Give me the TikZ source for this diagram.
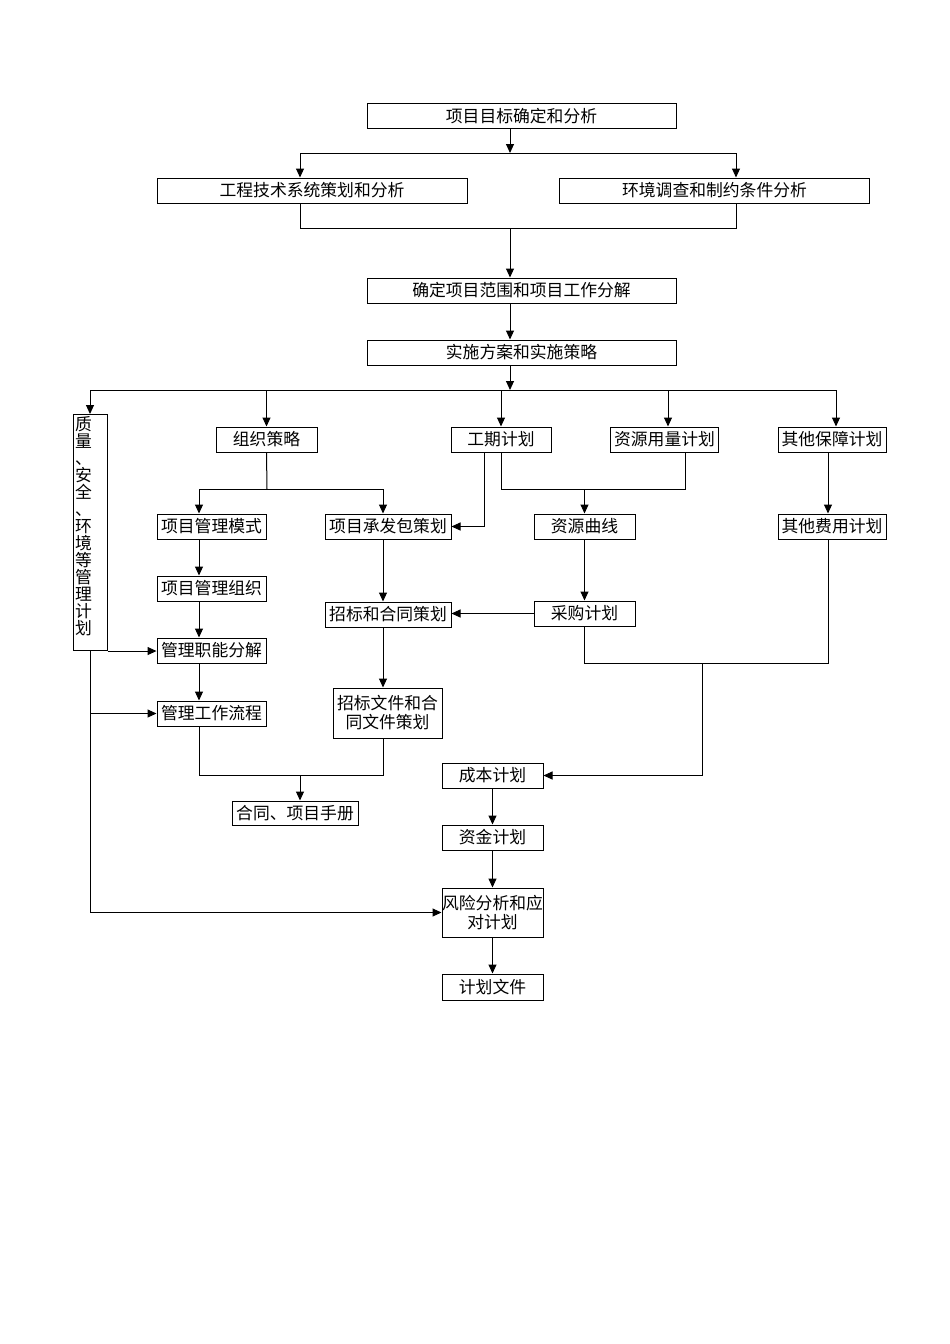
\documentclass[tikz,border=0pt]{standalone}
\usepackage{fontspec}
\newfontfamily\cjk{Noto Sans CJK SC}
\usetikzlibrary{arrows.meta}
\tikzset{
  box/.style={draw,line width=1pt,inner sep=0pt,minimum height=25pt,align=center,
    font=\cjk\fontsize{16.8}{19}\selectfont},
  tallbox/.style={box,align=left,text width=30pt,inner xsep=2pt,inner ysep=2pt,
    text depth=218pt,font=\cjk\fontsize{16.8}{17}\selectfont},
  link/.style={line width=1pt},
  arr/.style={link,-{Triangle[length=9pt,width=8pt]}}
}
\begin{document}
\begin{tikzpicture}[x=1pt,y=-1pt]
    \useasboundingbox (0,0) rectangle (950,1344);
    % upper part
    \node[box,minimum width=309pt] (goal) at (521.5,116) {项目目标确定和分析};
    \node[box,minimum width=310pt] (tech) at (312,190.5) {工程技术系统策划和分析};
    \node[box,minimum width=310pt] (env) at (714.5,190.5) {环境调查和制约条件分析};
    \node[box,minimum width=309pt] (scope) at (521.5,290.5) {确定项目范围和项目工作分解};
    \node[box,minimum width=309pt] (impl) at (521.5,352.5) {实施方案和实施策略};
    % planning rows
    \node[tallbox,anchor=north] (qual) at (90,414) {质\\量\\、\\安\\全\\、\\环\\境\\等\\管\\理\\计\\划};
    \node[box,minimum width=101pt] (org) at (266.5,439.5) {组织策略};
    \node[box,minimum width=100pt] (sched) at (501,439.5) {工期计划};
    \node[box,minimum width=108pt] (res) at (664.5,439.5) {资源用量计划};
    \node[box,minimum width=108pt] (other) at (832,439.5) {其他保障计划};
    \node[box,minimum width=109pt] (mode) at (211.5,526.5) {项目管理模式};
    \node[box,minimum width=126pt] (contract) at (388,526.5) {项目承发包策划};
    \node[box,minimum width=101pt] (curve) at (584.5,526.5) {资源曲线};
    \node[box,minimum width=108pt] (otherc) at (832,526.5) {其他费用计划};
    \node[box,minimum width=109pt] (mgorg) at (211.5,588.5) {项目管理组织};
    \node[box,minimum width=126pt] (bid) at (388,614.5) {招标和合同策划};
    \node[box,minimum width=101pt] (purch) at (584.5,613.5) {采购计划};
    \node[box,minimum width=109pt] (func) at (211.5,650.5) {管理职能分解};
    \node[box,minimum width=109pt] (flow) at (211.5,713.5) {管理工作流程};
    \node[box,minimum width=109pt,minimum height=50pt] (biddoc) at (387.5,713) {招标文件和合\\同文件策划};
    \node[box,minimum width=126pt,minimum height=24pt] (manual) at (295,813) {合同、项目手册};
    \node[box,minimum width=101pt] (cost) at (492.5,775.5) {成本计划};
    \node[box,minimum width=101pt] (fund) at (492.5,837.5) {资金计划};
    \node[box,minimum width=101pt,minimum height=49pt] (risk) at (492.5,912.5) {风险分析和应\\对计划};
    \node[box,minimum width=101pt,minimum height=26pt] (doc) at (492.5,987) {计划文件};
    % lanes and branch points
    \coordinate (lA) at (199,0); \coordinate (lB) at (383,0); \coordinate (lC) at (484,0);
    \coordinate (lF) at (685,0); \coordinate (lH) at (828,0);
    \coordinate (xa) at (300,0); \coordinate (xb) at (736,0);
    \coordinate (c1) at (510,153); \coordinate (c2) at (510,228); \coordinate (sp) at (510,390);
    \coordinate (os) at (267,489); \coordinate (ss) at (501,489);
    \coordinate (ps) at (702,663); \coordinate (ms) at (300,775);
    % top connectors
    \draw[arr] (goal.south -| c1) -- (c1);
    \draw[arr] (c1) -| (tech.north -| xa);
    \draw[arr] (c1) -| (env.north -| xb);
    \draw[link] (tech.south -| xa) -- (xa |- c2) -- (xb |- c2) -- (env.south -| xb);
    \draw[arr] (c2) -- (scope.north -| c2);
    \draw[arr] (scope.south -| c2) -- (impl.north -| c2);
    \draw[arr] (impl.south -| sp) -- (sp);
    \draw[arr] (sp) -| (qual.north);
    \draw[arr] (sp) -| (org.north);
    \draw[arr] (sp) -| (sched.north);
    \draw[arr] (sp) -| ([xshift=3.5pt]res.north);
    \draw[arr] (sp) -| ([xshift=4pt]other.north);
    % organisation
    \draw[link] (org.south) -- (os);
    \draw[arr] (os) -| (mode.north -| lA);
    \draw[arr] (os) -| (contract.north -| lB);
    \draw[arr] (mode.south -| lA) -- (mgorg.north -| lA);
    \draw[arr] (mgorg.south -| lA) -- (func.north -| lA);
    \draw[arr] (func.south -| lA) -- (flow.north -| lA);
    \draw[arr] (contract.south -| lB) -- (bid.north -| lB);
    \draw[arr] (bid.south -| lB) -- (biddoc.north -| lB);
    \draw[link] (flow.south -| lA) -- (lA |- ms) -- (lB |- ms) -- (biddoc.south -| lB);
    \draw[arr] (ms) -- (manual.north -| ms);
    % quality, safety, environment
    \draw[arr] (qual.south east) -- (func.west |- qual.south east);
    \draw[arr] (qual.south) |- (risk.west);
    \draw[arr] (qual.south |- flow.west) -- (flow.west);
    % schedule and resources
    \draw[arr] (sched.south -| lC) |- (contract.east);
    \draw[link] (sched.south -| ss) -- (ss) -| (res.south -| lF);
    \draw[arr] (ss -| curve.north) -- (curve.north);
    \draw[arr] (curve) -- (purch);
    \draw[arr] (purch.west) -- (bid.east |- purch.west);
    \draw[arr] (other.south -| lH) -- (otherc.north -| lH);
    \draw[link] (purch.south) -- (purch.south |- ps) -- (lH |- ps) -- (otherc.south -| lH);
    \draw[arr] (ps) |- (cost.east);
    % cost chain
    \draw[arr] (cost) -- (fund);
    \draw[arr] (fund) -- (risk);
    \draw[arr] (risk) -- (doc);
\end{tikzpicture}
\end{document}
